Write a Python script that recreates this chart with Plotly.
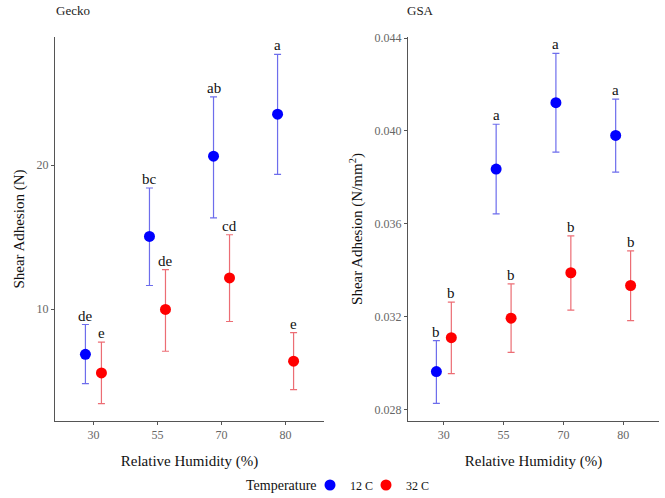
import plotly.graph_objects as go

humidity = ["30", "55", "70", "80"]
temps = ["12 C", "32 C"]

gecko_12_mean = [6.86, 15.05, 20.63, 23.55]
gecko_12_upper = [8.93, 18.42, 24.76, 27.71]
gecko_12_lower = [4.82, 11.64, 16.35, 19.37]
gecko_12_letters = ["de", "bc", "ab", "a"]

gecko_32_mean = [5.56, 9.98, 12.17, 6.38]
gecko_32_upper = [7.70, 12.75, 15.17, 8.37]
gecko_32_lower = [3.43, 7.07, 9.14, 4.40]
gecko_32_letters = ["e", "de", "cd", "e"]

gsa_12_mean = [0.02963, 0.03836, 0.04122, 0.03981]
gsa_12_upper = [0.03096, 0.04029, 0.04334, 0.04137]
gsa_12_lower = [0.02826, 0.03643, 0.03909, 0.03823]
gsa_12_letters = ["b", "a", "a", "a"]

gsa_32_mean = [0.03109, 0.03193, 0.03389, 0.03334]
gsa_32_upper = [0.03262, 0.03341, 0.03548, 0.03483]
gsa_32_lower = [0.02954, 0.03046, 0.03228, 0.03183]
gsa_32_letters = ["b", "b", "b", "b"]

point_colors = {"12 C": "#0000ff", "32 C": "#ff0000"}
bar_colors = {"12 C": "rgba(60,60,230,0.75)", "32 C": "rgba(230,60,70,0.75)"}
legend_ids = {"12 C": "legend", "32 C": "legend2"}
FONT = "Liberation Serif"
DODGE = 0.125

fig = go.Figure()
annotations = []

panels = [
    ("x", "y", [(gecko_12_mean, gecko_12_upper, gecko_12_lower, gecko_12_letters, "12 C", -DODGE),
                (gecko_32_mean, gecko_32_upper, gecko_32_lower, gecko_32_letters, "32 C", DODGE)], True),
    ("x2", "y2", [(gsa_12_mean, gsa_12_upper, gsa_12_lower, gsa_12_letters, "12 C", -DODGE),
                  (gsa_32_mean, gsa_32_upper, gsa_32_lower, gsa_32_letters, "32 C", DODGE)], False),
]

for xa, ya, series, show in panels:
    for mean, up, lo, letters, t, off in series:
        xs = [i + 1 + off for i in range(len(humidity))]
        fig.add_trace(go.Scatter(
            x=xs, y=mean, xaxis=xa, yaxis=ya, mode="markers", name=t,
            showlegend=show, legendgroup=t, legend=legend_ids[t],
            marker=dict(color=point_colors[t], size=11),
            error_y=dict(type="data", symmetric=False,
                         array=[u - m for u, m in zip(up, mean)],
                         arrayminus=[m - l for m, l in zip(mean, lo)],
                         color=bar_colors[t], thickness=1.2, width=3.5),
        ))
        for xv, yv, lab in zip(xs, up, letters):
            annotations.append(dict(x=xv, y=yv, xref=xa, yref=ya, text=lab,
                                    showarrow=False, yanchor="bottom", yshift=-1,
                                    font=dict(family=FONT, size=15, color="#111")))

axis_common = dict(showline=True, linecolor="#555", linewidth=1, ticks="outside",
                   ticklen=3, tickcolor="#555", showgrid=False, zeroline=False,
                   automargin=False,
                   tickfont=dict(family=FONT, size=12, color="#666"))

annotations += [
    dict(text="Gecko", x=54/665, y=1 - 10/498, xref="paper", yref="paper", xanchor="left",
         yanchor="middle", showarrow=False, font=dict(family=FONT, size=13, color="#222")),
    dict(text="GSA", x=405/665, y=1 - 10/498, xref="paper", yref="paper", xanchor="left",
         yanchor="middle", showarrow=False, font=dict(family=FONT, size=13, color="#222")),
    dict(text="Temperature", x=244/665, y=13/498, xref="paper", yref="paper", xanchor="left",
         yanchor="middle", showarrow=False, font=dict(family=FONT, size=14, color="#111")),
]

legend_common = dict(orientation="h", xanchor="left", y=13/498, yanchor="middle",
                     font=dict(family=FONT, size=12, color="#111"),
                     itemwidth=30, tracegroupgap=0, bgcolor="rgba(0,0,0,0)")

fig.update_layout(
    width=665, height=498, autosize=False,
    margin=dict(l=0, r=0, t=0, b=0, autoexpand=False),
    plot_bgcolor="white", paper_bgcolor="white",
    font=dict(family=FONT, color="#111"),
    xaxis=dict(domain=[55/665, 324/665], anchor="y", range=[0.4, 4.6],
               tickvals=[1, 2, 3, 4], ticktext=humidity,
               title=dict(text="Relative Humidity (%)", font=dict(family=FONT, size=15), standoff=14),
               **axis_common),
    yaxis=dict(domain=[77/498, 461/498], anchor="x", range=[2.22, 28.92],
               tickvals=[10, 20],
               title=dict(text="Shear Adhesion (N)", font=dict(family=FONT, size=15), standoff=8),
               **axis_common),
    xaxis2=dict(domain=[408/665, 659/665], anchor="y2", range=[0.4, 4.6],
                tickvals=[1, 2, 3, 4], ticktext=humidity,
                title=dict(text="Relative Humidity (%)", font=dict(family=FONT, size=15), standoff=14),
                **axis_common),
    yaxis2=dict(domain=[77/498, 461/498], anchor="x2", range=[0.0275, 0.04405],
                tickvals=[0.028, 0.032, 0.036, 0.040, 0.044], tickformat=".3f",
                title=dict(text="Shear Adhesion (N/mm<sup>2</sup>)", font=dict(family=FONT, size=15), standoff=8),
                **axis_common),
    legend=dict(x=310/665, **legend_common),
    legend2=dict(x=366/665, **legend_common),
    annotations=annotations,
)

fig.write_html("out.html", config={"displayModeBar": False},
               post_script="document.body.style.margin='0';")
